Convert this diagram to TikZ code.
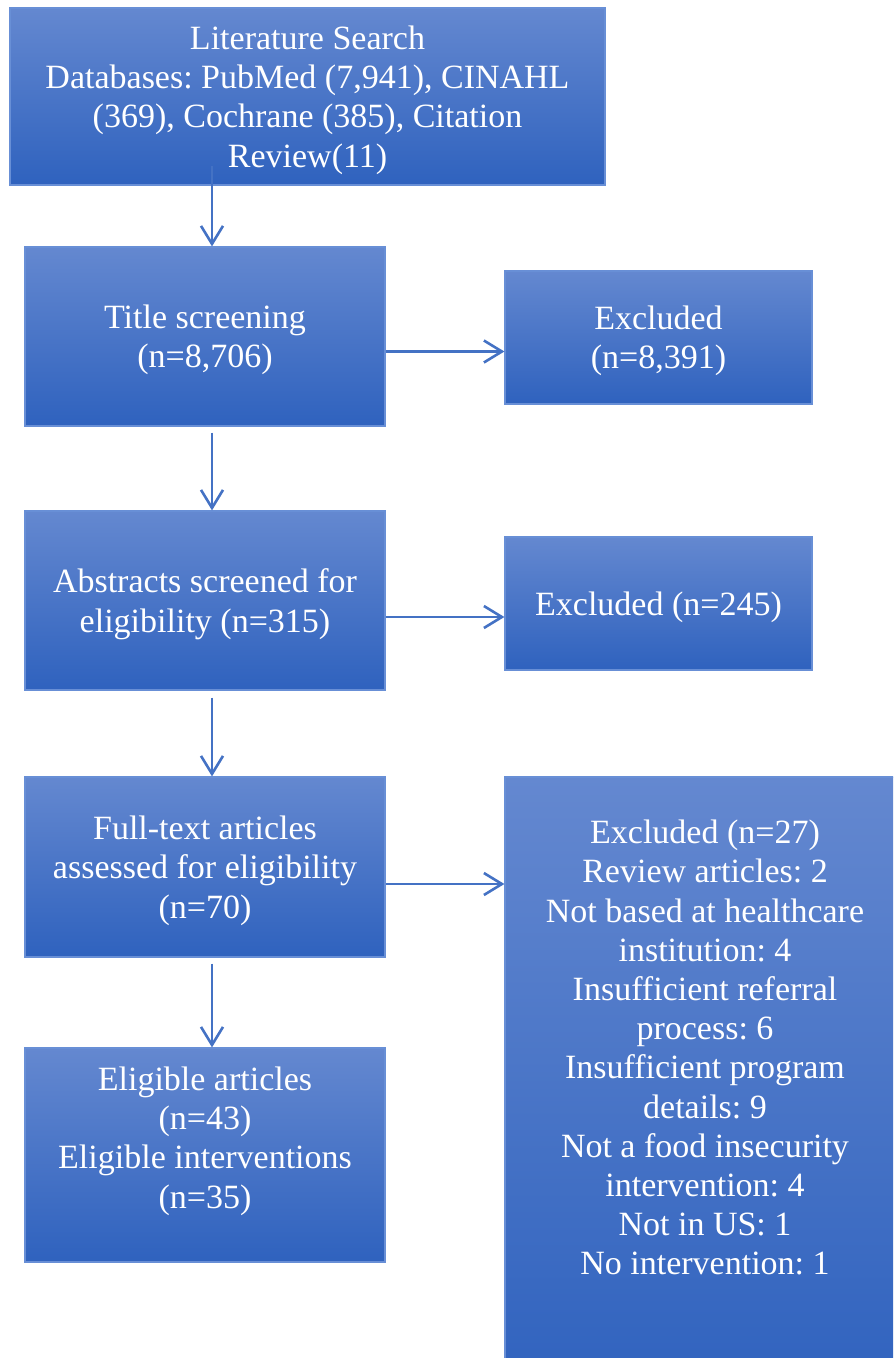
\documentclass[tikz,border=0pt]{standalone}
\usepackage{fontspec}
\setmainfont{Liberation Serif}
\usepackage{tikz}
\usetikzlibrary{arrows.meta}
\definecolor{boxtop}{RGB}{100,136,208}
\definecolor{boxbot}{RGB}{47,98,190}
\definecolor{boxline}{RGB}{104,143,214}
\definecolor{arrowblue}{RGB}{68,114,196}
\frenchspacing

\begin{document}
\begin{tikzpicture}[
        x = 1pt, y = 1pt,
        >= {Straight Barb[length=9pt,width=11pt]},
        box/.style = {rectangle, top color=boxtop, bottom color=boxbot, draw=boxline,
            line width=0.6pt, text=white, align=center, inner sep=0pt, text depth=-0.5pt,
            font=\fontsize{17}{19.6}\selectfont},
        flow/.style = {->, draw=arrowblue, line width=1.3pt}
    ]
        \clip (0,0) rectangle (446.5,-679);
        \node [box, minimum width=297.5pt, minimum height=88.5pt, text depth=-4.5pt] (lit) at (153.75,-48.25)
            {Literature Search\\Databases: PubMed (7,941), CINAHL\\(369), Cochrane (385), Citation\\Review(11)};
        \node [box, minimum width=180pt, minimum height=89.5pt] (title) at (102.5,-168.25)
            {Title screening\\(n=8,706)};
        \node [box, minimum width=153.5pt, minimum height=66.5pt] (excla) at (329.25,-168.75)
            {Excluded\\(n=8,391)};
        \node [box, minimum width=180pt, minimum height=89.5pt] (abs) at (102.5,-300.25)
            {Abstracts screened for\\eligibility (n=315)};
        \node [box, minimum width=153.5pt, minimum height=66.5pt] (exclb) at (329.25,-301.75)
            {Excluded (n=245)};
        \node [box, minimum width=180pt, minimum height=90pt] (full) at (102.5,-433.5)
            {Full-text articles\\assessed for eligibility\\(n=70)};
        \node [box, minimum width=200pt, minimum height=311.5pt, text depth=41pt] (exclc) at (352.5,-544.25)
            {Excluded (n=27)\\Review articles: 2\\Not based at healthcare\\institution: 4\\Insufficient referral\\process: 6\\Insufficient program\\details: 9\\Not a food insecurity\\intervention: 4\\Not in US: 1\\No intervention: 1};
        \node [box, minimum width=180pt, minimum height=107pt, text depth=17.5pt] (elig) at (102.5,-577.5)
            {Eligible articles\\(n=43)\\Eligible interventions\\(n=35)};
        % vertical arrows
        \draw [flow] ([xshift=-47.75pt,yshift=10pt]lit.south) -- ([xshift=3.5pt]title.north);
        \draw [flow] ([xshift=3.5pt,yshift=-3pt]title.south) -- ([xshift=3.5pt]abs.north);
        \draw [flow] ([xshift=3.5pt,yshift=-3.5pt]abs.south) -- ([xshift=3.5pt]full.north);
        \draw [flow] ([xshift=3.5pt,yshift=-3pt]full.south) -- ([xshift=3.5pt]elig.north);
        % horizontal arrows
        \draw [flow] ([yshift=-7.5pt]title.east) -- ([yshift=-7.5pt]title.east -| excla.west);
        \draw [flow] ([yshift=-8.25pt]abs.east) -- ([yshift=-8.25pt]abs.east -| exclb.west);
        \draw [flow] ([yshift=-8.5pt]full.east) -- ([yshift=-8.5pt]full.east -| exclc.west);
        \end{tikzpicture}
\end{document}
